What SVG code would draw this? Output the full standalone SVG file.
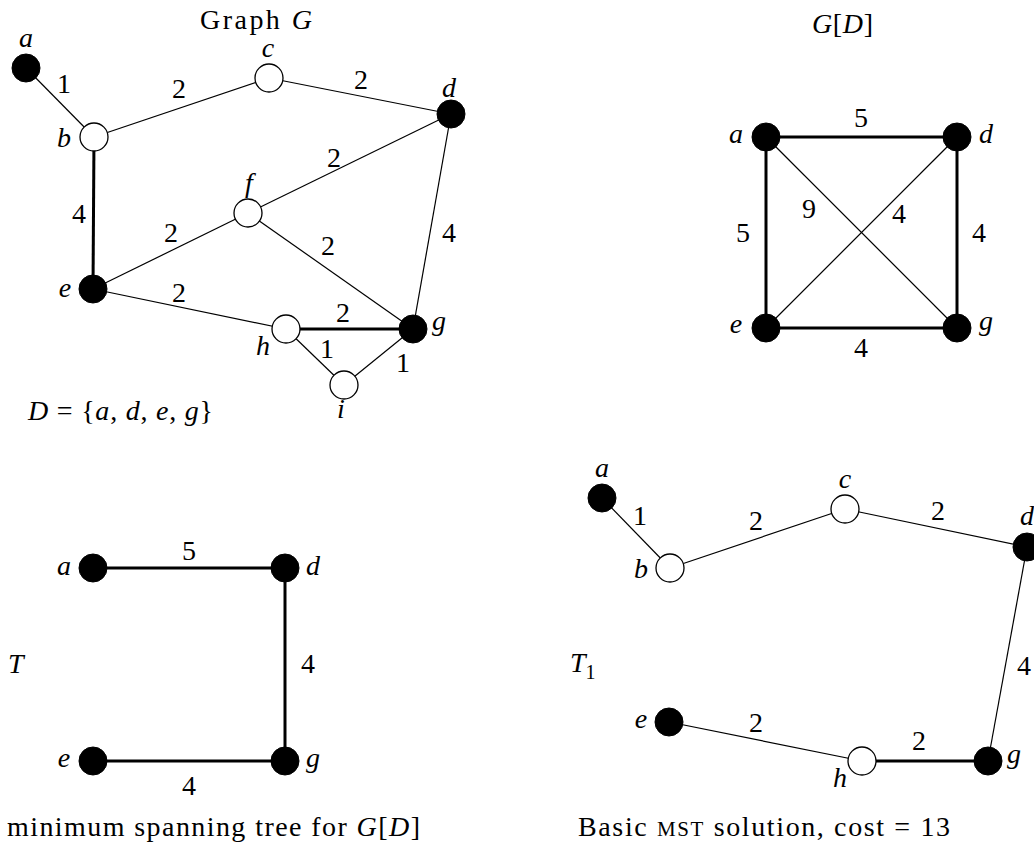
<svg xmlns="http://www.w3.org/2000/svg" width="1034" height="855" viewBox="0 0 1034 855">
<style>
text{font-family:"Liberation Serif","Times New Roman",serif;font-size:28px;fill:#000;text-anchor:middle}
.it{font-style:italic}
.cap{text-anchor:start}
.thin{stroke:#000;stroke-width:1.2;fill:none}
.thick{stroke:#000;stroke-width:3;fill:none}
.filled{fill:#000;stroke:#000;stroke-width:1}
.open{fill:#fff;stroke:#000;stroke-width:1.3}
</style>
<rect width="1034" height="855" fill="#fff"/>

<!-- ===== Graph G ===== -->
<text class="cap" x="200" y="29" textLength="112" lengthAdjust="spacing">Graph <tspan class="it">G</tspan></text>
<g id="G-edges">
<line class="thin" x1="26" y1="68" x2="94" y2="137"/>
<line class="thin" x1="94" y1="137" x2="269" y2="78"/>
<line class="thin" x1="269" y1="78" x2="451" y2="114"/>
<line class="thin" x1="451" y1="114" x2="248" y2="213"/>
<line class="thin" x1="451" y1="114" x2="413" y2="329"/>
<line class="thick" x1="94" y1="137" x2="93" y2="289"/>
<line class="thin" x1="93" y1="289" x2="248" y2="213"/>
<line class="thin" x1="248" y1="213" x2="413" y2="329"/>
<line class="thin" x1="93" y1="289" x2="286" y2="329"/>
<line class="thick" x1="286" y1="329" x2="413" y2="329"/>
<line class="thin" x1="286" y1="329" x2="344" y2="385"/>
<line class="thin" x1="344" y1="385" x2="413" y2="329"/>
</g>
<g id="G-edge-labels">
<text x="64" y="93">1</text>
<text x="179" y="98">2</text>
<text x="361" y="89">2</text>
<text x="334" y="167">2</text>
<text x="79" y="223">4</text>
<text x="171" y="242">2</text>
<text x="328" y="255">2</text>
<text x="449" y="242">4</text>
<text x="179" y="302">2</text>
<text x="343" y="322">2</text>
<text x="327" y="358">1</text>
<text x="403" y="372">1</text>
</g>
<g id="G-a"><circle class="filled" cx="26" cy="68" r="14"/><text class="it" x="26" y="47">a</text></g>
<g id="G-b"><circle class="open" cx="94" cy="137" r="14"/><text class="it" x="64" y="147">b</text></g>
<g id="G-c"><circle class="open" cx="269" cy="78" r="14"/><text class="it" x="268" y="57">c</text></g>
<g id="G-d"><circle class="filled" cx="451" cy="114" r="14"/><text class="it" x="449" y="97">d</text></g>
<g id="G-f"><circle class="open" cx="248" cy="213" r="14"/><text class="it" x="249" y="192">f</text></g>
<g id="G-e"><circle class="filled" cx="93" cy="289" r="14"/><text class="it" x="65" y="297">e</text></g>
<g id="G-h"><circle class="open" cx="286" cy="329" r="14"/><text class="it" x="263" y="355">h</text></g>
<g id="G-g"><circle class="filled" cx="413" cy="329" r="14"/><text class="it" x="439" y="330">g</text></g>
<g id="G-i"><circle class="open" cx="344" cy="385" r="14"/><text class="it" x="341" y="418">i</text></g>
<text class="cap" x="28" y="420" textLength="185" lengthAdjust="spacing"><tspan class="it">D</tspan> = {<tspan class="it">a</tspan>, <tspan class="it">d</tspan>, <tspan class="it">e</tspan>, <tspan class="it">g</tspan>}</text>

<!-- ===== G[D] ===== -->
<text class="cap" x="812" y="33" textLength="61" lengthAdjust="spacing"><tspan class="it">G</tspan>[<tspan class="it">D</tspan>]</text>
<g id="GD-edges">
<line class="thick" x1="766" y1="137" x2="957" y2="137"/>
<line class="thick" x1="766" y1="137" x2="766" y2="328"/>
<line class="thick" x1="957" y1="137" x2="957" y2="328"/>
<line class="thick" x1="766" y1="328" x2="957" y2="328"/>
<line class="thin" x1="766" y1="137" x2="957" y2="328"/>
<line class="thin" x1="957" y1="137" x2="766" y2="328"/>
</g>
<g id="GD-edge-labels">
<text x="861" y="127">5</text>
<text x="809" y="218">9</text>
<text x="899" y="223">4</text>
<text x="743" y="242">5</text>
<text x="979" y="242">4</text>
<text x="861" y="357">4</text>
</g>
<g id="GD-a"><circle class="filled" cx="766" cy="137" r="14"/><text class="it" x="736" y="143">a</text></g>
<g id="GD-d"><circle class="filled" cx="957" cy="137" r="14"/><text class="it" x="986" y="143">d</text></g>
<g id="GD-e"><circle class="filled" cx="766" cy="328" r="14"/><text class="it" x="736" y="333">e</text></g>
<g id="GD-g"><circle class="filled" cx="957" cy="328" r="14"/><text class="it" x="986" y="330">g</text></g>

<!-- ===== T ===== -->
<g id="T-edges">
<line class="thick" x1="93" y1="568" x2="285" y2="568"/>
<line class="thick" x1="285" y1="568" x2="285" y2="761"/>
<line class="thick" x1="93" y1="761" x2="285" y2="761"/>
</g>
<g id="T-edge-labels">
<text x="189" y="560">5</text>
<text x="308" y="673">4</text>
<text x="189" y="795">4</text>
</g>
<g id="T-a"><circle class="filled" cx="93" cy="568" r="14"/><text class="it" x="64" y="575">a</text></g>
<g id="T-d"><circle class="filled" cx="285" cy="568" r="14"/><text class="it" x="313" y="575">d</text></g>
<g id="T-e"><circle class="filled" cx="93" cy="761" r="14"/><text class="it" x="64" y="767">e</text></g>
<g id="T-g"><circle class="filled" cx="285" cy="761" r="14"/><text class="it" x="313" y="767">g</text></g>
<text class="it cap" x="8" y="673">T</text>
<text class="cap" x="7" y="836" textLength="413" lengthAdjust="spacing">minimum spanning tree for <tspan class="it">G</tspan>[<tspan class="it">D</tspan>]</text>

<!-- ===== T1 ===== -->
<g id="T1-edges">
<line class="thin" x1="602" y1="498" x2="670" y2="568"/>
<line class="thin" x1="670" y1="568" x2="845" y2="509"/>
<line class="thin" x1="845" y1="509" x2="1027" y2="547"/>
<line class="thin" x1="1027" y1="547" x2="988" y2="761"/>
<line class="thin" x1="669" y1="722" x2="862" y2="761"/>
<line class="thick" x1="862" y1="761" x2="988" y2="761"/>
</g>
<g id="T1-edge-labels">
<text x="640" y="525">1</text>
<text x="756" y="530">2</text>
<text x="938" y="520">2</text>
<text x="1024" y="675">4</text>
<text x="756" y="732">2</text>
<text x="919" y="750">2</text>
</g>
<g id="T1-a"><circle class="filled" cx="602" cy="498" r="14"/><text class="it" x="602" y="477">a</text></g>
<g id="T1-b"><circle class="open" cx="670" cy="568" r="14"/><text class="it" x="641" y="578">b</text></g>
<g id="T1-c"><circle class="open" cx="845" cy="509" r="14"/><text class="it" x="845" y="488">c</text></g>
<g id="T1-d"><circle class="filled" cx="1027" cy="547" r="14"/><text class="it" x="1027" y="525">d</text></g>
<g id="T1-e"><circle class="filled" cx="669" cy="722" r="14"/><text class="it" x="641" y="728">e</text></g>
<g id="T1-h"><circle class="open" cx="862" cy="761" r="14"/><text class="it" x="840" y="787">h</text></g>
<g id="T1-g"><circle class="filled" cx="988" cy="761" r="14"/><text class="it" x="1014" y="763">g</text></g>
<text class="cap" x="570" y="672"><tspan class="it">T</tspan><tspan dy="7" font-size="20">1</tspan></text>
<text class="cap" x="578" y="836" textLength="372" lengthAdjust="spacing">Basic <tspan font-size="21">MST</tspan> solution, cost = 13</text>
</svg>
